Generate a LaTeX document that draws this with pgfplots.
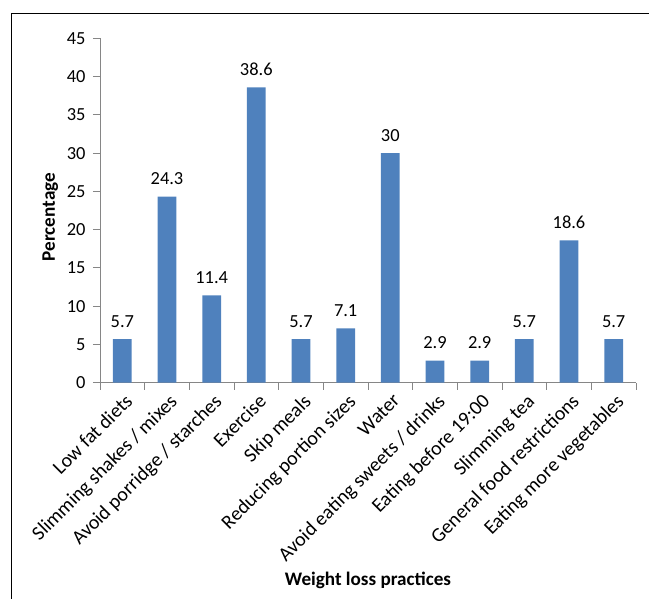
\documentclass[border=0pt]{standalone}
\usepackage{fontspec}
\setmainfont{Carlito}
\usepackage{pgfplots}
\pgfplotsset{compat=1.18}
\usepackage{pgfplotstable}
\definecolor{barblue}{HTML}{4F81BD}
\definecolor{axgray}{HTML}{868686}
\pgfplotstableread{
x y lab
0 5.7 5.7
1 24.3 24.3
2 11.4 11.4
3 38.6 38.6
4 5.7 5.7
5 7.1 7.1
6 30 30
7 2.9 2.9
8 2.9 2.9
9 5.7 5.7
10 18.6 18.6
11 5.7 5.7
}\datatable
\begin{document}
\begin{tikzpicture}
\begin{axis}[
  at={(0,0)}, anchor=south west,
  scale only axis,
  width=536bp, height=344.4bp,
  ymin=0, ymax=45, ytick={0,5,...,45},
  xmin=-0.5, xmax=11.5,
  axis x line*=bottom, axis y line*=left,
  axis line style={draw=axgray, line width=1pt, -},
  xtick={0,...,11},
  xticklabels={Low fat diets, Slimming shakes / mixes, Avoid porridge / starches, Exercise, Skip meals, Reducing portion sizes, Water, Avoid eating sweets / drinks, Eating before 19:00, Slimming tea, General food restrictions, Eating more vegetables},
  minor xtick={-0.5,0.5,...,11.5},
  major x tick style={draw=none},
  minor x tick style={draw=axgray, line width=1pt},
  y tick style={draw=axgray, line width=1pt},
  tick align=outside,
  major tick length=7bp, minor tick length=7bp,
  yticklabel style={font=\fontsize{18.5}{21}\selectfont, text=black, xshift=-4bp},
  xticklabel style={font=\fontsize{20}{23}\selectfont, text=black, rotate=45, anchor=north east, inner sep=1pt, yshift=-2bp},
  /pgf/number format/assume math mode=true,
  xlabel={Weight loss practices},
  ylabel={Percentage},
  label style={font=\fontsize{19.2}{22}\selectfont\bfseries},
  xlabel style={at={(axis description cs:0.5,0)}, anchor=base, yshift=-202.3bp},
  ylabel style={at={(axis description cs:-0.08396,0.481)}, anchor=base},
  ybar, bar width=18.7bp,
  point meta=explicit symbolic,
  nodes near coords,
  nodes near coords style={font=\fontsize{18.5}{21}\selectfont, anchor=base, inner sep=0pt, yshift=12bp, text=black},
  clip=false,
]
\addplot[fill=barblue, draw=none] table[x=x, y=y, meta=lab] {\datatable};
\end{axis}
\draw[black, line width=1pt] (-89bp,-216.3bp) -- (-89bp,368.7bp) -- (549bp,368.7bp);
\pgfresetboundingbox
\path[use as bounding box] (-100bp,-216.3bp) rectangle (549bp,382.7bp);
\end{tikzpicture}
\end{document}
